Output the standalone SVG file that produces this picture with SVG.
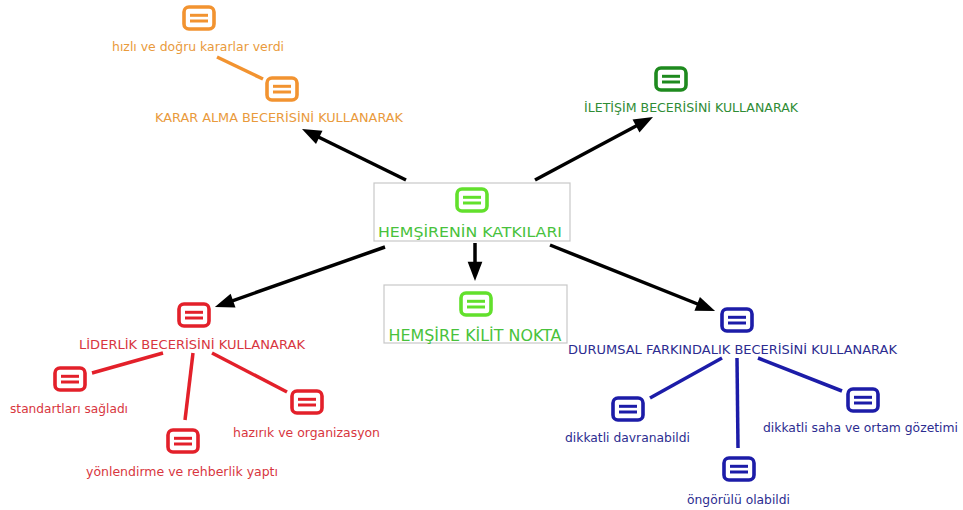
<svg xmlns="http://www.w3.org/2000/svg" xmlns:xlink="http://www.w3.org/1999/xlink" width="963" height="510" viewBox="0 0 963 510">
  <defs>
    <style>
      text { font-family: "DejaVu Sans", Verdana, sans-serif; font-size: 12px; text-anchor: middle; }
      .big { font-size: 14.5px; }
      .bigger { font-size: 15.5px; }
      .box { fill: #ffffff; stroke: #c8c8c8; stroke-width: 1.2; }
      .arrow { stroke: #000; stroke-width: 3.5; fill: none; marker-end: url(#head); }
      .orange { color: #f29330; }
      .red { color: #e3202a; }
      .blue { color: #1c1ca8; }
      .dgreen { color: #1e8a1e; }
      .lgreen { color: #62e02c; }
      .t-orange { fill: #e99a3c; }
      .t-red { fill: #d83640; }
      .t-blue { fill: #2c2c90; }
      .t-dgreen { fill: #2f8c35; }
      .t-lgreen { fill: #48c23c; }
      .l-orange { stroke: #f29330; stroke-width: 3.5; }
      .l-red { stroke: #e3202a; stroke-width: 3.5; }
      .l-blue { stroke: #1c1ca8; stroke-width: 3.5; }
    </style>
    <!-- concept icon: rounded frame with two bars -->
    <symbol id="icon" viewBox="0 0 34 26" overflow="visible">
      <rect x="2" y="2" width="30" height="22" rx="5" ry="5" fill="#fff" stroke="currentColor" stroke-width="3.6"/>
      <line x1="8" y1="10.3" x2="26" y2="10.3" stroke="currentColor" stroke-width="3"/>
      <line x1="8" y1="16" x2="26" y2="16" stroke="currentColor" stroke-width="3"/>
    </symbol>
    <marker id="head" markerWidth="6" markerHeight="5" refX="3.2" refY="2.1" orient="auto" markerUnits="strokeWidth" overflow="visible">
      <path d="M0,0 L5.5,2.1 L0,4.2 z" fill="#000"/>
    </marker>
  </defs>

  <rect width="963" height="510" fill="#ffffff"/>

  <!-- connectors -->
  <g id="connectors">
    <line class="arrow" x1="406" y1="180" x2="309.2" y2="132.5"/>
    <line class="arrow" x1="535" y1="180" x2="645.9" y2="120.8"/>
    <line class="arrow" x1="475" y1="243" x2="475" y2="273"/>
    <line class="arrow" x1="385" y1="247" x2="222.5" y2="304.3"/>
    <line class="arrow" x1="550" y1="245" x2="707.6" y2="308"/>

    <line class="l-orange" x1="217" y1="57" x2="263" y2="79"/>

    <line class="l-red" x1="163" y1="353" x2="92" y2="373"/>
    <line class="l-red" x1="193" y1="353" x2="185" y2="420"/>
    <line class="l-red" x1="212" y1="353" x2="287" y2="392"/>

    <line class="l-blue" x1="722" y1="358" x2="650" y2="398"/>
    <line class="l-blue" x1="737" y1="358" x2="738" y2="448"/>
    <line class="l-blue" x1="758" y1="358" x2="842" y2="391"/>
  </g>

  <!-- central concept -->
  <g id="hemsirenin-katkilari">
    <rect class="box" x="374" y="183" width="196" height="58"/>
    <use href="#icon" class="lgreen" x="455" y="187" width="34" height="26"/>
    <text class="big t-lgreen" x="470" y="237" textLength="184" lengthAdjust="spacingAndGlyphs">HEMŞİRENİN KATKILARI</text>
  </g>

  <g id="hemsire-kilit-nokta">
    <rect class="box" x="384" y="285" width="183" height="58"/>
    <use href="#icon" class="lgreen" x="459" y="291" width="34" height="26"/>
    <text class="bigger t-lgreen" x="475" y="341" textLength="173" lengthAdjust="spacingAndGlyphs">HEMŞİRE KİLİT NOKTA</text>
  </g>

  <!-- decision making branch -->
  <g id="hizli-karar">
    <use href="#icon" class="orange" x="182" y="5" width="34" height="26"/>
    <text class="t-orange" x="198" y="51" textLength="172" lengthAdjust="spacingAndGlyphs">hızlı ve doğru kararlar verdi</text>
  </g>
  <g id="karar-alma">
    <use href="#icon" class="orange" x="265" y="76" width="34" height="26"/>
    <text class="t-orange" x="279" y="122" textLength="248" lengthAdjust="spacingAndGlyphs">KARAR ALMA BECERİSİNİ KULLANARAK</text>
  </g>

  <!-- communication branch -->
  <g id="iletisim">
    <use href="#icon" class="dgreen" x="654" y="66" width="34" height="26"/>
    <text class="t-dgreen" x="691" y="112" textLength="214" lengthAdjust="spacingAndGlyphs">İLETİŞİM BECERİSİNİ KULLANARAK</text>
  </g>

  <!-- leadership branch -->
  <g id="liderlik">
    <use href="#icon" class="red" x="177" y="302" width="34" height="26"/>
    <text class="t-red" x="192" y="349" textLength="226" lengthAdjust="spacingAndGlyphs">LİDERLİK BECERİSİNİ KULLANARAK</text>
  </g>
  <g id="standartlar">
    <use href="#icon" class="red" x="53" y="366" width="34" height="26"/>
    <text class="t-red" x="69" y="413" textLength="118" lengthAdjust="spacingAndGlyphs">standartları sağladı</text>
  </g>
  <g id="yonlendirme">
    <use href="#icon" class="red" x="166" y="428" width="34" height="26"/>
    <text class="t-red" x="182" y="476" textLength="192" lengthAdjust="spacingAndGlyphs">yönlendirme ve rehberlik yaptı</text>
  </g>
  <g id="hazirlik">
    <use href="#icon" class="red" x="290" y="389" width="34" height="26"/>
    <text class="t-red" x="306.5" y="437" textLength="147" lengthAdjust="spacingAndGlyphs">hazırık ve organizasyon</text>
  </g>

  <!-- situational awareness branch -->
  <g id="durumsal-farkindalik">
    <use href="#icon" class="blue" x="720" y="307" width="34" height="26"/>
    <text class="t-blue" x="732.5" y="354" textLength="329" lengthAdjust="spacingAndGlyphs">DURUMSAL FARKINDALIK BECERİSİNİ KULLANARAK</text>
  </g>
  <g id="dikkatli-davranabildi">
    <use href="#icon" class="blue" x="611" y="396" width="34" height="26"/>
    <text class="t-blue" x="627.5" y="442" textLength="125" lengthAdjust="spacingAndGlyphs">dikkatli davranabildi</text>
  </g>
  <g id="ongorulu">
    <use href="#icon" class="blue" x="722" y="456" width="34" height="26"/>
    <text class="t-blue" x="738.5" y="504" textLength="103" lengthAdjust="spacingAndGlyphs">öngörülü olabildi</text>
  </g>
  <g id="dikkatli-saha">
    <use href="#icon" class="blue" x="846" y="387" width="34" height="26"/>
    <text class="t-blue" x="860.5" y="432" textLength="195" lengthAdjust="spacingAndGlyphs">dikkatli saha ve ortam gözetimi</text>
  </g>
</svg>
